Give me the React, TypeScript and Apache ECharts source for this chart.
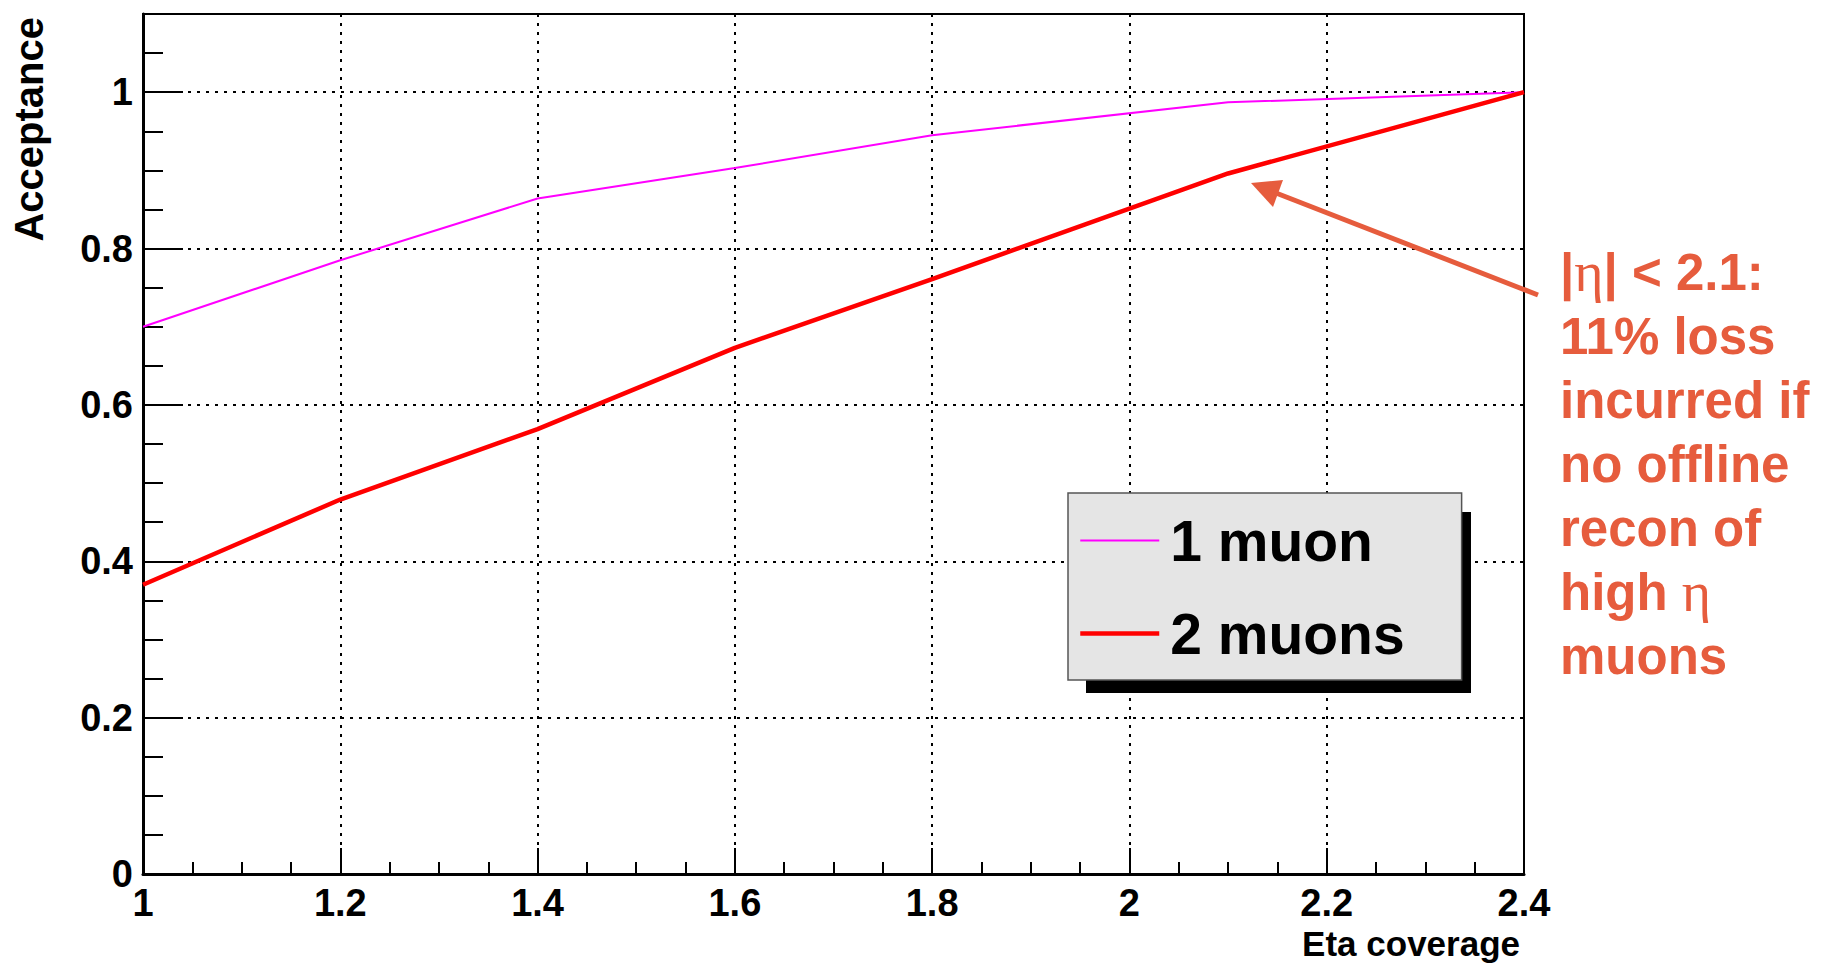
import React, { useEffect, useRef } from "react";
import * as echarts from "echarts";

const etaCoverage = [1.0, 1.2, 1.4, 1.6, 1.8, 2.1, 2.4];
const oneMuon = [0.7, 0.785, 0.864, 0.903, 0.945, 0.987, 1.0];
const twoMuons = [0.37, 0.479, 0.569, 0.673, 0.761, 0.896, 1.0];
const seriesNames = ["1 muon", "2 muons"];
const seriesColors = ["#FF00FF", "#FF0000"];
const seriesWidths = [2, 4.5];
const xTitle = "Eta coverage";
const yTitle = "Acceptance";
const annotationLines = ["|{e|η}| < 2.1:", "11% loss", "incurred if", "no offline", "recon of", "high {e|η}", "muons"];

const FONT = "'Liberation Sans', Arial, Helvetica, sans-serif";
const SERIF = "'Liberation Serif', 'DejaVu Serif', serif";
const ANNOT = "#E65C3D";

export default function App() {
  const ref = useRef<HTMLDivElement>(null);
  useEffect(() => {
    document.body.style.margin = "0";
    document.body.style.overflow = "hidden";
    const chart = echarts.init(ref.current!, null, { renderer: "svg" });
    const axisCommonX = { type: "value", min: 1, max: 2.4 };
    const axisCommonY = { type: "value", min: 0, max: 1.1 };
    const annot = annotationLines.map((t, i) => ({
      type: "text",
      x: 1560,
      y: 290 + i * 64 - 18,
      z: 10,
      style: {
        text: t,
        fill: ANNOT,
        fontSize: 51,
        fontWeight: "bold",
        fontFamily: FONT,
        align: "left",
        verticalAlign: "middle",
        rich: {
          e: { fontSize: 56, fontWeight: "normal", fontFamily: SERIF, fill: ANNOT },
        },
      },
    }));
    chart.setOption({
      animation: false,
      backgroundColor: "#ffffff",
      grid: {
        left: 143,
        right: 298,
        top: 14,
        bottom: 89,
        show: true,
        borderColor: "#000",
        borderWidth: 2,
        backgroundColor: "transparent",
      },
      xAxis: [
        {
          ...axisCommonX,
          interval: 0.2,
          position: "bottom",
          axisLine: { show: true, lineStyle: { color: "#000", width: 3 } },
          axisTick: { show: true, inside: true, length: 26, lineStyle: { color: "#000", width: 2 } },
          axisLabel: {
            show: true,
            color: "#000",
            fontSize: 38,
            fontWeight: "bold",
            fontFamily: FONT,
            margin: 14,
            lineHeight: 30,
            formatter: (v: number) => `${+v.toFixed(1)}`,
          },
          splitLine: { show: true, lineStyle: { color: "#000", width: 2, type: [3, 6] } },
        },
        {
          ...axisCommonX,
          interval: 0.05,
          position: "bottom",
          axisLine: { show: false },
          axisTick: { show: true, inside: true, length: 12, lineStyle: { color: "#000", width: 2 } },
          axisLabel: { show: false },
          splitLine: { show: false },
        },
      ],
      yAxis: [
        {
          ...axisCommonY,
          interval: 0.2,
          position: "left",
          axisLine: { show: true, lineStyle: { color: "#000", width: 3 } },
          axisTick: { show: true, inside: true, length: 40, lineStyle: { color: "#000", width: 2 } },
          axisLabel: {
            show: true,
            color: "#000",
            fontSize: 38,
            fontWeight: "bold",
            fontFamily: FONT,
            margin: 10,
            formatter: (v: number) => (v > 1.05 ? "" : `${+v.toFixed(1)}`),
          },
          splitLine: { show: true, lineStyle: { color: "#000", width: 2, type: [3, 6] } },
        },
        {
          ...axisCommonY,
          interval: 0.05,
          position: "left",
          axisLine: { show: false },
          axisTick: { show: true, inside: true, length: 20, lineStyle: { color: "#000", width: 2 } },
          axisLabel: { show: false },
          splitLine: { show: false },
        },
      ],
      legend: {
        orient: "vertical",
        left: 1068,
        top: 493,
        padding: [19, 57, 18, 10],
        itemWidth: 79,
        itemHeight: 57,
        itemGap: 36,
        backgroundColor: "#E5E5E5",
        borderColor: "#555",
        borderWidth: 1.5,
        itemStyle: { opacity: 0 },
        textStyle: {
          color: "#000",
          fontSize: 57,
          fontWeight: "bold",
          fontFamily: FONT,
          lineHeight: 57,
          padding: [0, 0, 0, 6],
        },
        data: seriesNames.map((n, i) => ({
          name: n,
          lineStyle: { color: seriesColors[i], width: seriesWidths[i] },
        })),
      },
      series: seriesNames.map((n, i) => ({
        name: n,
        type: "line",
        xAxisIndex: 0,
        yAxisIndex: 0,
        symbol: "none",
        data: etaCoverage.map((x, j) => [x, (i === 0 ? oneMuon : twoMuons)[j]]),
        lineStyle: { color: seriesColors[i], width: seriesWidths[i] },
        itemStyle: { color: seriesColors[i] },
        z: 5,
      })),
      graphic: [
        {
          type: "rect",
          z: 3,
          shape: { x: 1086, y: 512, width: 385, height: 181 },
          style: { fill: "#000" },
        },
        {
          type: "text",
          x: 29,
          y: 17,
          rotation: Math.PI / 2,
          style: {
            text: yTitle,
            fill: "#000",
            font: `bold 40px ${FONT}`,
            align: "right",
            verticalAlign: "middle",
          },
        },
        {
          type: "text",
          x: 1520,
          y: 943,
          style: {
            text: xTitle,
            fill: "#000",
            font: `bold 35px ${FONT}`,
            align: "right",
            verticalAlign: "middle",
          },
        },
        {
          type: "line",
          z: 10,
          shape: { x1: 1538, y1: 295, x2: 1276, y2: 193 },
          style: { stroke: ANNOT, lineWidth: 5 },
        },
        {
          type: "polygon",
          z: 10,
          shape: { points: [[1251, 183], [1283, 180], [1273, 207]] },
          style: { fill: ANNOT },
        },
        ...annot,
      ],
    });
    return () => chart.dispose();
  }, []);
  return (
    <div
      ref={ref}
      style={{ position: "absolute", left: 0, top: 0, width: 1822, height: 963 }}
    />
  );
}
